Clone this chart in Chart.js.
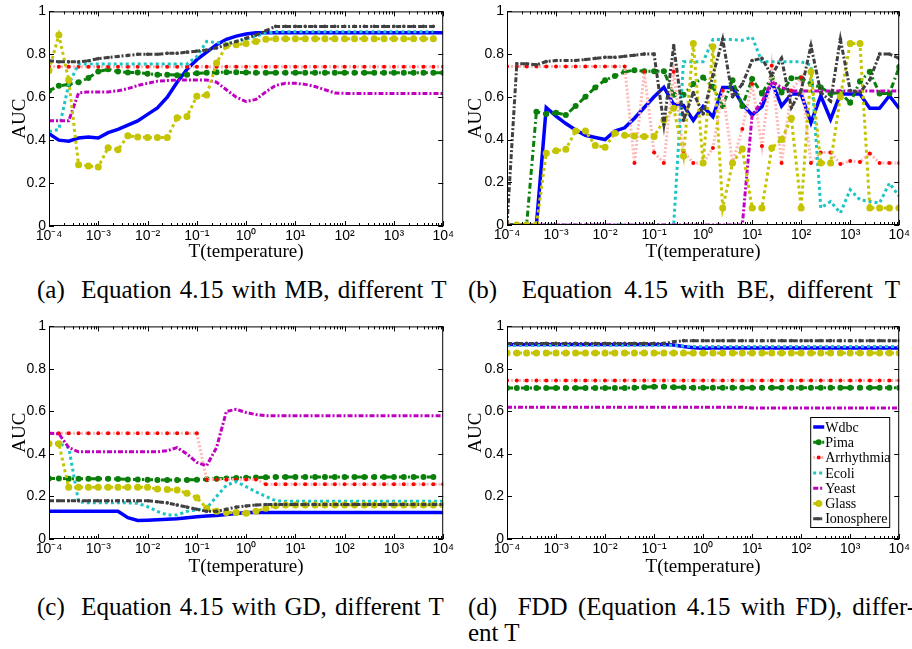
<!DOCTYPE html>
<html>
<head>
<meta charset="utf-8">
<script src="https://cdn.jsdelivr.net/npm/chart.js@4.4.1/dist/chart.umd.min.js"></script>
<style>
  body { margin: 0; background: #fff; }
  #page { position: relative; width: 912px; height: 649px; overflow: hidden; background: #fff; }
  canvas { position: absolute; }
  .cap { position: absolute; font-family: "Liberation Serif", "Times New Roman", serif; font-size: 25px;
         line-height: 26px; color: #000; white-space: pre; }
</style>
</head>
<body>
<div id="page">
  <canvas id="chartA" width="456" height="262" style="left:0;top:0"></canvas>
  <canvas id="chartB" width="456" height="262" style="left:456px;top:0"></canvas>
  <canvas id="chartC" width="456" height="262" style="left:0;top:315px"></canvas>
  <canvas id="chartD" width="456" height="262" style="left:456px;top:315px"></canvas>
  <div class="cap" style="left:37px;top:277px;word-spacing:2px">(a)  Equation 4.15 with MB, different T</div>
  <div class="cap" style="left:468px;top:277px;word-spacing:6px">(b)  Equation 4.15 with BE, different T</div>
  <div class="cap" style="left:37px;top:594px;word-spacing:2px">(c)  Equation 4.15 with GD, different T</div>
  <div class="cap" style="left:468px;top:594px;word-spacing:4px">(d)  FDD (Equation 4.15 with FD), differ-</div>
  <div class="cap" style="left:468px;top:620px">ent T</div>
</div>
<script>
// temperatures used on the x axis (log spaced, 5 per decade)
const tValues = [
  1e-4, 1.585e-4, 2.512e-4, 3.981e-4, 6.310e-4,
  1e-3, 1.585e-3, 2.512e-3, 3.981e-3, 6.310e-3,
  1e-2, 1.585e-2, 2.512e-2, 3.981e-2, 6.310e-2,
  1e-1, 0.1585, 0.2512, 0.3981, 0.6310,
  1, 1.585, 2.512, 3.981, 6.310,
  10, 15.85, 25.12, 39.81, 63.10,
  100, 158.5, 251.2, 398.1, 631.0,
  1000, 1585, 2512, 3981, 6310,
  10000
];
const xTickValues = [1e-4, 1e-3, 1e-2, 1e-1, 1, 10, 100, 1000, 10000];
const xTickLabels = ['10⁻⁴', '10⁻³', '10⁻²', '10⁻¹', '10⁰', '10¹', '10²', '10³', '10⁴'];
const yTickValues = [0, 0.2, 0.4, 0.6, 0.8, 1];
const yTickLabels = ['0', '0.2', '0.4', '0.6', '0.8', '1'];
const seriesNames = ['Wdbc', 'Pima', 'Arrhythmia', 'Ecoli', 'Yeast', 'Glass', 'Ionosphere'];

// (a) MB
const mbWdbc = [0.43,0.40,0.395,0.41,0.415,0.41,0.435,0.45,0.47,0.49,0.52,0.55,0.60,0.67,0.73,0.775,0.81,0.845,0.87,0.885,0.895,
  0.90,0.90,0.90,0.90,0.90,0.90,0.90,0.90,0.90,0.90,0.90,0.90,0.90,0.90,0.90,0.90,0.90,0.90,0.90,0.90];
const mbPima = [0.63,0.653,0.66,0.67,0.69,0.72,0.73,0.72,0.715,0.715,0.71,0.705,0.705,0.703,0.705,0.712,0.714,0.716,0.716,0.716,0.715,
  0.714,0.714,0.714,0.714,0.714,0.714,0.714,0.714,0.714,0.714,0.714,0.714,0.714,0.714,0.714,0.714,0.714,0.714,0.714,0.714];
const mbArr = [0.742,0.742,0.742,0.742,0.742,0.742,0.742,0.742,0.742,0.742,0.742,0.742,0.742,0.742,0.742,0.742,0.742,0.742,0.742,0.742,0.742,
  0.742,0.742,0.742,0.742,0.742,0.742,0.742,0.742,0.742,0.742,0.742,0.742,0.742,0.742,0.742,0.742,0.742,0.742,0.742,0.742];
const mbEcoli = [0.44,0.45,0.66,0.755,0.755,0.755,0.755,0.755,0.755,0.755,0.755,0.755,0.755,0.755,0.755,0.79,0.86,0.855,0.85,0.86,0.87,0.885,0.90,
  0.905,0.905,0.905,0.905,0.905,0.905,0.905,0.905,0.905,0.905,0.905,0.905,0.905,0.905,0.905,0.905,0.905];
const mbYeast = [0.49,0.49,0.49,0.62,0.625,0.625,0.625,0.63,0.64,0.655,0.665,0.675,0.678,0.68,0.68,0.68,0.68,0.67,0.635,0.60,0.58,0.59,0.625,0.655,0.665,0.665,0.66,0.65,0.635,0.62,
  0.618,0.618,0.618,0.618,0.618,0.618,0.618,0.618,0.618,0.618,0.618];
const mbGlass = [0.725,0.89,0.68,0.285,0.28,0.275,0.365,0.355,0.42,0.415,0.412,0.412,0.412,0.505,0.51,0.605,0.61,0.76,0.84,0.845,0.85,0.86,0.87,
  0.872,0.872,0.872,0.872,0.872,0.872,0.872,0.872,0.872,0.872,0.872,0.872,0.872,0.872,0.872,0.872,0.872];
const mbIono = [0.77,0.765,0.765,0.765,0.77,0.78,0.785,0.79,0.795,0.80,0.80,0.80,0.805,0.805,0.81,0.815,0.82,0.83,0.845,0.86,0.875,0.89,0.91,
  0.93,0.93,0.93,0.93,0.93,0.93,0.93,0.93,0.93,0.93,0.93,0.93,0.93,0.93,0.93,0.93,0.93];

// (b) BE
const beWdbc = [0,0,0,0,0.55,0.51,0.475,0.445,0.42,0.41,0.40,0.44,0.455,0.50,0.55,0.60,0.645,0.565,0.56,0.49,0.555,
  0.507,0.644,0.644,0.566,0.515,0.554,0.67,0.557,0.613,0.613,0.479,0.605,0.495,0.613,0.613,0.613,0.546,0.546,0.605,0.546];
const bePima = [0,0,0,0.53,0.52,0.525,0.515,0.557,0.60,0.644,0.678,0.697,0.717,0.725,0.72,0.72,0.72,0.61,0.61,0.66,0.69,
  0.647,0.557,0.678,0.557,0.684,0.616,0.69,0.62,0.687,0.687,0.66,0.644,0.616,0.62,0.572,0.673,0.717,0.616,0.616,0.74];
const beArr = [0.742,0.742,0.742,0.742,0.742,0.742,0.742,0.742,0.742,0.742,0.742,0.742,0.742,0.29,0.717,0.34,0.29,0.717,0.344,0.29,0.29,
  0.36,0.63,0.29,0.45,0.66,0.37,0.745,0.29,0.63,0.69,0.29,0.34,0.34,0.285,0.30,0.295,0.335,0.29,0.29,0.29];
const beEcoli = [0,0,0,0,0,0,0,0,0,0,0,0,0,0,0,0,0,0,0.764,0.764,0.764,
  0.868,0.868,0.868,0.865,0.88,0.764,0.764,0.764,0.764,0.764,0.748,0.08,0.11,0.056,0.165,0.118,0.11,0.103,0.196,0.134];
const beYeast = [0,0,0,0,0,0,0,0,0,0,0,0,0,0,0,0,0,0,0,0,0,0,0,0,0,0.515,0.577,0.67,0.644,0.628,
  0.627,0.627,0.627,0.627,0.627,0.627,0.627,0.627,0.627,0.627,0.627];
const beGlass = [0,0,0,0,0.336,0.348,0.355,0.44,0.44,0.372,0.364,0.43,0.42,0.417,0.414,0.414,0.49,0.546,0.323,0.85,0.29,
  0.834,0.08,0.29,0.356,0.08,0.08,0.36,0.40,0.50,0.08,0.717,0.29,0.29,0.60,0.85,0.85,0.08,0.08,0.08,0.08];
const beIono = [0,0.755,0.755,0.75,0.765,0.77,0.77,0.77,0.775,0.78,0.785,0.785,0.79,0.795,0.80,0.80,0.47,0.84,0.49,0.62,0.52,
  0.70,0.87,0.60,0.66,0.77,0.78,0.70,0.78,0.55,0.63,0.84,0.62,0.58,0.87,0.63,0.62,0.68,0.80,0.80,0.78];

// (c) GD
const gdWdbc = [0.13,0.13,0.13,0.13,0.13,0.13,0.13,0.13,0.10,0.087,0.088,0.09,0.093,0.095,0.10,0.105,0.108,0.11,0.115,0.12,0.125,
  0.125,0.125,0.125,0.125,0.125,0.125,0.125,0.125,0.125,0.125,0.125,0.125,0.125,0.125,0.125,0.125,0.125,0.125,0.125,0.125];
const gdPima = [0.285,0.285,0.283,0.283,0.283,0.283,0.283,0.282,0.28,0.28,0.279,0.278,0.277,0.277,0.278,0.279,0.281,0.283,0.285,0.287,0.288,0.289,0.29,
  0.292,0.292,0.292,0.292,0.292,0.292,0.292,0.292,0.292,0.292,0.292,0.292,0.292,0.292,0.292,0.292,0.292];
const gdArr = [0.497,0.497,0.497,0.497,0.497,0.497,0.497,0.497,0.497,0.497,0.497,0.497,0.497,0.497,0.497,0.497,0.28,0.28,0.28,0.28,0.28,0.28,
  0.258,0.258,0.258,0.258,0.258,0.258,0.258,0.258,0.258,0.258,0.258,0.258,0.258,0.258,0.258,0.258,0.258,0.258,0.258];
const gdEcoli = [0.45,0.45,0.43,0.175,0.17,0.17,0.17,0.17,0.17,0.168,0.152,0.13,0.113,0.113,0.13,0.137,0.145,0.20,0.253,0.27,0.246,0.222,0.20,0.18,
  0.177,0.177,0.177,0.177,0.177,0.177,0.177,0.177,0.177,0.177,0.177,0.177,0.177,0.177,0.177,0.177,0.177];
const gdYeast = [0.497,0.495,0.43,0.41,0.41,0.41,0.41,0.41,0.41,0.41,0.41,0.41,0.415,0.43,0.40,0.36,0.345,0.43,0.60,0.61,0.595,0.585,
  0.58,0.58,0.58,0.58,0.58,0.58,0.58,0.58,0.58,0.58,0.58,0.58,0.58,0.58,0.58,0.58,0.58,0.58,0.58];
const gdGlass = [0.448,0.448,0.243,0.243,0.243,0.243,0.243,0.243,0.243,0.243,0.243,0.235,0.233,0.23,0.215,0.194,0.145,0.13,0.125,0.125,0.121,0.13,0.145,0.156,0.16,
  0.16,0.16,0.16,0.16,0.16,0.16,0.16,0.16,0.16,0.16,0.16,0.16,0.16,0.16,0.16,0.16];
const gdIono = [0.18,0.18,0.18,0.18,0.18,0.18,0.18,0.18,0.18,0.18,0.18,0.175,0.17,0.16,0.15,0.14,0.13,0.13,0.14,0.15,0.155,0.16,
  0.162,0.162,0.162,0.162,0.162,0.162,0.162,0.162,0.162,0.162,0.162,0.162,0.162,0.162,0.162,0.162,0.162,0.162,0.162];

// (d) FD
const fdWdbc = [0.915,0.915,0.915,0.915,0.915,0.915,0.915,0.915,0.915,0.915,0.915,0.915,0.915,0.915,0.915,0.915,0.915,0.912,0.905,0.90,0.897,
  0.898,0.898,0.898,0.898,0.898,0.898,0.898,0.898,0.898,0.898,0.898,0.898,0.898,0.898,0.898,0.898,0.898,0.898,0.898,0.898];
const fdPima = [0.71,0.71,0.71,0.71,0.71,0.71,0.71,0.71,0.71,0.71,0.71,0.71,0.71,0.712,0.714,0.716,0.716,0.714,0.713,
  0.712,0.712,0.712,0.712,0.712,0.712,0.712,0.712,0.712,0.712,0.712,0.712,0.712,0.712,0.712,0.712,0.712,0.712,0.712,0.712,0.712,0.712];
const fdArr = [0.745,0.745,0.745,0.745,0.745,0.745,0.745,0.745,0.745,0.745,0.745,0.745,0.745,0.745,0.745,0.745,0.745,0.745,0.745,0.745,0.745,
  0.745,0.745,0.745,0.745,0.745,0.745,0.745,0.745,0.745,0.745,0.745,0.745,0.745,0.745,0.745,0.745,0.745,0.745,0.745,0.745];
const fdEcoli = [0.91,0.91,0.91,0.91,0.91,0.91,0.91,0.91,0.91,0.91,0.91,0.91,0.91,0.91,0.91,0.91,0.91,0.91,0.907,
  0.905,0.905,0.905,0.905,0.905,0.905,0.905,0.905,0.905,0.905,0.905,0.905,0.905,0.905,0.905,0.905,0.905,0.905,0.905,0.905,0.905,0.905];
const fdYeast = [0.62,0.62,0.62,0.62,0.62,0.62,0.62,0.62,0.62,0.62,0.62,0.62,0.62,0.62,0.62,0.62,0.62,0.62,0.62,0.62,0.62,0.62,0.62,0.62,0.62,
  0.616,0.616,0.616,0.616,0.616,0.616,0.616,0.616,0.616,0.616,0.616,0.616,0.616,0.616,0.616,0.616];
const fdGlass = [0.875,0.875,0.875,0.875,0.875,0.875,0.875,0.875,0.875,0.875,0.875,0.875,0.875,0.875,0.875,0.875,0.875,0.875,0.875,0.875,0.875,
  0.875,0.875,0.875,0.875,0.875,0.875,0.875,0.875,0.875,0.875,0.875,0.875,0.875,0.875,0.875,0.875,0.875,0.875,0.875,0.875];
const fdIono = [0.92,0.92,0.92,0.92,0.92,0.92,0.92,0.92,0.92,0.92,0.92,0.92,0.92,0.92,0.92,0.92,0.92,0.928,
  0.933,0.933,0.933,0.933,0.933,0.933,0.933,0.933,0.933,0.933,0.933,0.933,0.933,0.933,0.933,0.933,0.933,0.933,0.933,0.933,0.933,0.933,0.933];

// line look per data set (MATLAB-ish)
const styles = [
  { color: '#0000ff', width: 3.5, dash: [], radius: 0 },
  { color: '#0a800a', width: 3, dash: [6, 3, 2, 3], radius: 3, point: '#0a800a' },
  { color: '#ffb8b8', width: 3, dash: [2, 2], radius: 2, point: '#ff0000' },
  { color: '#1cc4c4', width: 3, dash: [3, 3], radius: 0 },
  { color: '#c000c0', width: 3, dash: [5, 2, 2, 2], radius: 0 },
  { color: '#c4c400', width: 3, dash: [3, 3], radius: 3.5, point: '#c4c400' },
  { color: '#404040', width: 3, dash: [5, 2, 2, 2], radius: 1.8, point: '#404040' }
];

const sansFont = '"Liberation Sans Narrow", "Liberation Sans", Arial, sans-serif';
const serifFont = '"Liberation Serif", "Times New Roman", serif';

// minor tick positions 1..9 x 10^n
const xMinor = [];
for (let e = -4; e < 4; e++) for (let m = 1; m < 10; m++) xMinor.push(m * Math.pow(10, e));
xMinor.push(1e4);

const framePlugin = {
  id: 'frame',
  afterDraw(chart) {
    const { ctx, chartArea: a, scales: { x, y } } = chart;
    ctx.save();
    ctx.strokeStyle = '#000';
    ctx.lineWidth = 1;
    ctx.setLineDash([]);
    ctx.strokeRect(a.left + 0.5, a.top + 0.5, a.right - a.left - 1, a.bottom - a.top - 1);
    ctx.beginPath();
    xMinor.forEach(v => {
      const px = Math.round(x.getPixelForValue(v)) + 0.5;
      const len = xTickValues.includes(v) ? 5 : 3;
      ctx.moveTo(px, a.bottom); ctx.lineTo(px, a.bottom - len);
      ctx.moveTo(px, a.top); ctx.lineTo(px, a.top + len);
    });
    yTickValues.forEach(v => {
      const py = Math.round(y.getPixelForValue(v)) + 0.5;
      ctx.moveTo(a.left, py); ctx.lineTo(a.left + 5, py);
      ctx.moveTo(a.right, py); ctx.lineTo(a.right - 5, py);
    });
    ctx.stroke();
    ctx.restore();
  }
};

const legendPlugin = {
  id: 'boxLegend',
  afterDraw(chart) {
    const { ctx, chartArea: a } = chart;
    const w = 79, h = 110;
    const x0 = a.right - 10 - w, y0 = a.bottom - 12 - h;
    ctx.save();
    ctx.fillStyle = '#fff';
    ctx.fillRect(x0, y0, w, h);
    ctx.strokeStyle = '#000';
    ctx.lineWidth = 1;
    ctx.strokeRect(x0 + 0.5, y0 + 0.5, w, h);
    ctx.font = '14px ' + serifFont;
    ctx.textBaseline = 'middle';
    chart.data.datasets.forEach((ds, i) => {
      const cy = y0 + 10 + i * 15.3;
      ctx.setLineDash(ds.borderDash);
      ctx.strokeStyle = ds.borderColor;
      ctx.lineWidth = ds.borderWidth;
      ctx.beginPath(); ctx.moveTo(x0 + 3, cy); ctx.lineTo(x0 + 14, cy); ctx.stroke();
      ctx.setLineDash([]);
      if (ds.pointRadius > 0) {
        ctx.fillStyle = ds.pointBackgroundColor;
        ctx.beginPath(); ctx.arc(x0 + 8.5, cy, ds.pointRadius, 0, Math.PI * 2); ctx.fill();
      }
      ctx.fillStyle = '#000';
      ctx.fillText(ds.label, x0 + 15, cy + 1);
    });
    ctx.restore();
  }
};

function makeChart(id, series, box, withLegend) {
  const datasets = series.map((vals, i) => ({
    label: seriesNames[i],
    data: tValues.map((t, k) => ({ x: t, y: vals[k] })),
    borderColor: styles[i].color,
    borderWidth: styles[i].width,
    borderDash: styles[i].dash,
    pointRadius: styles[i].radius,
    pointBackgroundColor: styles[i].point || styles[i].color,
    pointBorderWidth: 0,
    pointHoverRadius: 0,
    tension: 0,
    fill: false,
    order: -i
  }));
  return new Chart(document.getElementById(id), {
    type: 'line',
    data: { datasets },
    options: {
      responsive: false,
      animation: false,
      events: [],
      layout: { padding: { left: 0, right: 10, top: box.top, bottom: 0 } },
      plugins: { legend: { display: false }, tooltip: { enabled: false } },
      scales: {
        x: {
          type: 'logarithmic', min: 1e-4, max: 1e4,
          grid: { display: false, drawTicks: false }, border: { display: false },
          afterBuildTicks: s => { s.ticks = xTickValues.map(v => ({ value: v })); },
          afterFit: s => { s.height = box.xh; },
          ticks: { autoSkip: false, maxRotation: 0, padding: 2, color: '#000',
                   font: { family: sansFont, size: 14 },
                   callback: (v, i) => xTickLabels[i] },
          title: { display: true, text: 'T(temperature)', color: '#000', padding: 0,
                   font: { family: serifFont, size: 19, lineHeight: 1 } }
        },
        y: {
          min: 0, max: 1,
          grid: { display: false, drawTicks: false }, border: { display: false },
          afterBuildTicks: s => { s.ticks = yTickValues.map(v => ({ value: v })); },
          afterFit: s => { s.width = box.yw; },
          ticks: { padding: 3, color: '#000', font: { family: sansFont, size: 14 },
                   callback: (v, i) => yTickLabels[i] },
          title: { display: true, text: 'AUC', color: '#000', padding: { top: 11, bottom: 0 },
                   font: { family: serifFont, size: 19, lineHeight: 1 } }
        }
      }
    },
    plugins: withLegend ? [framePlugin, legendPlugin] : [framePlugin]
  });
}

makeChart('chartA', [mbWdbc, mbPima, mbArr, mbEcoli, mbYeast, mbGlass, mbIono], { top: 10, xh: 36, yw: 49 }, false);
makeChart('chartB', [beWdbc, bePima, beArr, beEcoli, beYeast, beGlass, beIono], { top: 11, xh: 37, yw: 51 }, false);
makeChart('chartC', [gdWdbc, gdPima, gdArr, gdEcoli, gdYeast, gdGlass, gdIono], { top: 10, xh: 38, yw: 49 }, false);
makeChart('chartD', [fdWdbc, fdPima, fdArr, fdEcoli, fdYeast, fdGlass, fdIono], { top: 10, xh: 38, yw: 51 }, true);
</script>
</body>
</html>
